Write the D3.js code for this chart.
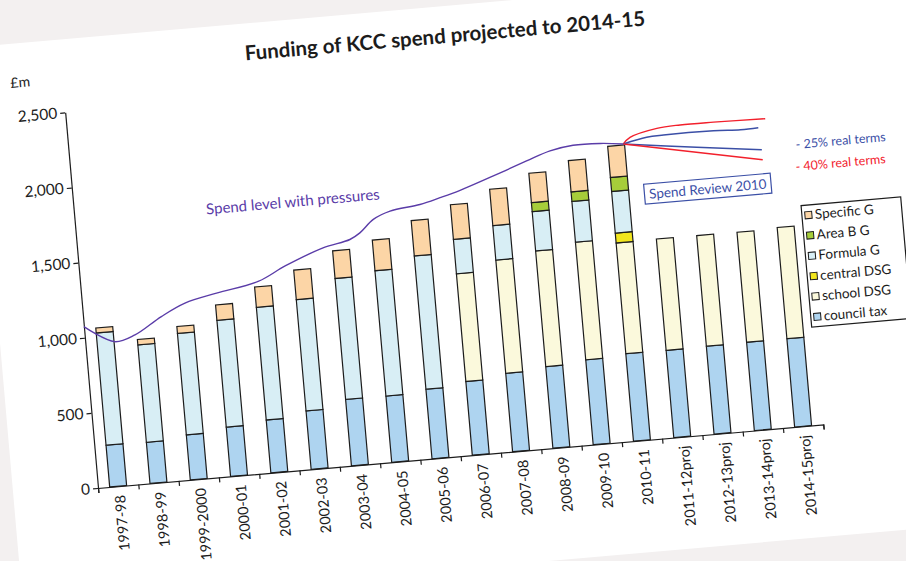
<!DOCTYPE html>
<html>
<head>
<meta charset="utf-8">
<script src="https://cdn.jsdelivr.net/npm/d3@7"></script>
<style>
  body { margin: 0; background: #fff; }
  svg { display: block; }
  text { font-family: Lato, 'Open Sans', sans-serif; }
</style>
</head>
<body>
<svg id="chart" width="906" height="561"></svg>
<script>
// values in £m
const years = ['1997-98', '1998-99', '1999-2000', '2000-01', '2001-02', '2002-03', '2003-04', '2004-05',
  '2005-06', '2006-07', '2007-08', '2008-09', '2009-10', '2010-11', '2011-12proj', '2012-13proj',
  '2013-14proj', '2014-15proj'];
const councilTax = [278, 274, 300, 328, 352, 389, 442, 441, 463, 491, 522, 543, 565, 582, 581, 585, 588, 588];
const schoolDSG  = [0, 0, 0, 0, 0, 0, 0, 0, 0, 717, 754, 770, 783, 737, 741, 736, 732, 740];
const centralDSG = [0, 0, 0, 0, 0, 0, 0, 0, 0, 0, 0, 0, 0, 66, 0, 0, 0, 0];
const formulaG   = [747, 648, 675, 711, 750, 741, 805, 834, 887, 229, 229, 262, 271, 277, 0, 0, 0, 0];
const areaBG     = [0, 0, 0, 0, 0, 0, 0, 0, 0, 0, 0, 60, 64, 93, 0, 0, 0, 0];
const specificG  = [33, 36, 46, 102, 135, 196, 184, 204, 235, 230, 242, 195, 208, 207, 0, 0, 0, 0];

// spend line: position in year units from the axis, value
const spendPos = [0, 0.73, 1.24, 1.93, 2.54, 3.34, 4.39, 5.1, 6.06, 6.74, 7.0, 7.36, 7.79, 8.54, 9.05, 9.56, 10.41, 11.26, 11.86, 12.44, 13.11, 13.68];
const spendVal = [1074, 957, 990, 1096, 1171, 1219, 1272, 1360, 1456, 1496, 1534, 1615, 1660, 1687, 1720, 1757, 1833, 1913, 1966, 1990, 1986, 1969];

// Spend Review 2010 scenarios
const redUpperPos = [13.68, 13.86, 14.54, 15.12, 15.95, 17.23];
const redUpperVal = [1969, 2009, 2053, 2062, 2061, 2054];
const blueUpperPos = [13.68, 14.27, 14.69, 15.93, 16.6, 17.04];
const blueUpperVal = [1969, 2000, 2005, 2004, 1995, 1998];
const blueLowerPos = [13.68, 15.48, 17.08];
const blueLowerVal = [1969, 1905, 1851];
const redLowerPos = [13.68, 17.08];
const redLowerVal = [1969, 1784];

const yTicks = [0, 500, 1000, 1500, 2000, 2500];

const keys = ['council tax', 'school DSG', 'central DSG', 'Formula G', 'Area B G', 'Specific G'];
const colors = {
  'council tax': '#aed4f0',
  'school DSG': '#fbf9dc',
  'central DSG': '#f2e61e',
  'Formula G': '#d8eef5',
  'Area B G': '#a6cd3a',
  'Specific G': '#fcd5a6'
};

const rows = years.map((y, i) => ({
  year: y,
  'council tax': councilTax[i],
  'school DSG': schoolDSG[i],
  'central DSG': centralDSG[i],
  'Formula G': formulaG[i],
  'Area B G': areaBG[i],
  'Specific G': specificG[i]
}));

const svg = d3.select('#chart');
const W = 728, H = 377;

// the page is photographed slightly tilted
svg.append('rect').attr('width', 906).attr('height', 561).attr('fill', '#f3f0f0');
const g = svg.append('g').attr('transform', 'translate(98,488) rotate(-5)');
g.append('rect')
  .attr('x', -85).attr('y', -450)
  .attr('width', 1000).attr('height', 562)
  .attr('fill', '#fff');

const x = d3.scaleBand().domain(years).range([0, W]).paddingInner(0.58).paddingOuter(0.29);
const pos = d3.scaleLinear().domain([0, years.length]).range([0, W]);
const y = d3.scaleLinear().domain([0, 2500]).range([0, -H]);

// bars
const series = d3.stack().keys(keys)(rows);
g.append('g')
  .selectAll('g')
  .data(series)
  .join('g')
  .attr('fill', d => colors[d.key])
  .selectAll('rect')
  .data(d => d.filter(s => s[1] - s[0] > 0))
  .join('rect')
  .attr('x', d => x(d.data.year))
  .attr('width', x.bandwidth())
  .attr('y', d => y(d[1]))
  .attr('height', d => y(d[0]) - y(d[1]))
  .attr('stroke', '#1c1c1c')
  .attr('stroke-width', 1.2);

// axes
const xAxis = g.append('g')
  .call(d3.axisBottom(pos).tickValues(d3.range(years.length + 1)).tickSize(5).tickSizeOuter(5).tickFormat(''));
xAxis.selectAll('path, line').attr('stroke', '#1c1c1c').attr('stroke-width', 1.2);

g.selectAll('.xl')
  .data(years)
  .join('text')
  .attr('class', 'xl')
  .attr('transform', d => `translate(${x(d) + x.bandwidth() / 2 + 6},9) rotate(-90)`)
  .attr('text-anchor', 'end')
  .attr('font-size', '14.5px')
  .attr('fill', '#1c1c1c')
  .text(d => d);

const yAxis = g.append('g')
  .call(d3.axisLeft(y).tickValues(yTicks).tickFormat(d3.format(',')).tickSize(5).tickSizeOuter(0));
yAxis.selectAll('path, line').attr('stroke', '#1c1c1c').attr('stroke-width', 1.2);
yAxis.selectAll('text').attr('font-size', '15.5px').attr('fill', '#1c1c1c').attr('font-family', 'Lato, sans-serif');

g.append('text')
  .attr('x', -52).attr('y', -406)
  .attr('font-size', '14px')
  .attr('fill', '#1c1c1c')
  .text('£m');

// title
g.append('text')
  .attr('x', 385).attr('y', -413)
  .attr('text-anchor', 'middle')
  .attr('font-size', '20.5px')
  .attr('font-weight', 'bold')
  .attr('fill', '#1c1c1c')
  .text('Funding of KCC spend projected to 2014-15');

// spend line
const line = d3.line()
  .x(d => pos(d[0]))
  .y(d => y(d[1]))
  .curve(d3.curveCatmullRom.alpha(0.5));

g.append('path')
  .datum(d3.zip(spendPos, spendVal))
  .attr('d', line)
  .attr('fill', 'none')
  .attr('stroke', '#5a3ca8')
  .attr('stroke-width', 1.4);

g.append('text')
  .attr('x', 132).attr('y', -263)
  .attr('font-size', '15px')
  .attr('fill', '#5a3ca8')
  .text('Spend level with pressures');

const scenarios = [
  { pts: d3.zip(redUpperPos, redUpperVal), color: '#f2202c' },
  { pts: d3.zip(blueUpperPos, blueUpperVal), color: '#3b4fa6' },
  { pts: d3.zip(blueLowerPos, blueLowerVal), color: '#3b4fa6' },
  { pts: d3.zip(redLowerPos, redLowerVal), color: '#f2202c' }
];
g.append('g')
  .selectAll('path')
  .data(scenarios)
  .join('path')
  .attr('d', d => line(d.pts))
  .attr('fill', 'none')
  .attr('stroke', d => d.color)
  .attr('stroke-width', 1.4);

g.append('text')
  .attr('x', 725).attr('y', -277)
  .attr('font-size', '12.5px')
  .attr('fill', '#3b4fa6')
  .text('- 25% real terms');

g.append('text')
  .attr('x', 723).attr('y', -255)
  .attr('font-size', '12.5px')
  .attr('fill', '#f2202c')
  .text('- 40% real terms');

// Spend Review 2010 box
g.append('rect')
  .attr('x', 570).attr('y', -255)
  .attr('width', 127).attr('height', 20)
  .attr('fill', '#fff')
  .attr('stroke', '#3b4fa6')
  .attr('stroke-width', 1.2);
g.append('text')
  .attr('x', 633.5).attr('y', -240)
  .attr('text-anchor', 'middle')
  .attr('font-size', '13.5px')
  .attr('fill', '#3b4fa6')
  .text('Spend Review 2010');

// legend
const legend = g.append('g').attr('transform', 'translate(725,-220)');
legend.append('rect')
  .attr('width', 100).attr('height', 122)
  .attr('fill', '#fff')
  .attr('stroke', '#1c1c1c')
  .attr('stroke-width', 1.2);

const legendItems = legend.selectAll('.legend-item')
  .data(keys.slice().reverse())
  .join('g')
  .attr('class', 'legend-item')
  .attr('transform', (_, i) => `translate(3, ${10 + i * 20.4})`);

legendItems.append('rect')
  .attr('x', 0).attr('y', -3.5)
  .attr('width', 7).attr('height', 7)
  .attr('fill', d => colors[d])
  .attr('stroke', '#1c1c1c')
  .attr('stroke-width', 1);

legendItems.append('text')
  .attr('x', 10).attr('y', 4.5)
  .attr('font-size', '13.5px')
  .attr('fill', '#1c1c1c')
  .text(d => d);
</script>
</body>
</html>
